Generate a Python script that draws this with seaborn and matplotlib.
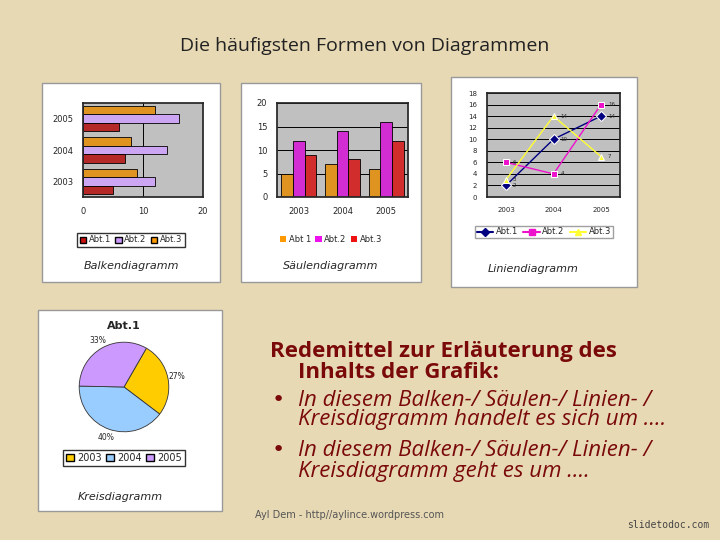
import matplotlib.pyplot as plt
import matplotlib.patches as mpatches
import seaborn as sns
import pandas as pd

years = ['2003', '2004', '2005']
abteilungen = ['Abt.1', 'Abt.2', 'Abt.3']
abt1 = [5, 7, 6]
abt2 = [12, 14, 16]
abt3 = [9, 8, 12]

line_years = ['2003', '2004', '2005']
line_abt1 = [2, 10, 14]
line_abt2 = [6, 4, 16]
line_abt3 = [3, 14, 7]

pie_years = ['2003', '2004', '2005']
pie_values = [27, 40, 33]

W, H = 720, 540


def rect(x0, y0, x1, y1):
    return [x0 / W, 1 - y1 / H, (x1 - x0) / W, (y1 - y0) / H]


sns.set_theme(style='white')
plt.rcParams['font.family'] = ['DejaVu Sans']
fig = plt.figure(figsize=(7.2, 5.4), dpi=100, facecolor='#e8d9b5')

fig.text(365 / W, 1 - 46 / H, 'Die häufigsten Formen von Diagrammen', ha='center', va='center',
         fontsize=14, color='#222222', family='Open Sans')

# white panel backgrounds
for x0, y0, x1, y1 in [(42, 83, 220, 282), (241, 83, 421, 282), (451, 77, 637, 287), (38, 310, 222, 511)]:
    fig.patches.append(mpatches.Rectangle((x0 / W, 1 - y1 / H), (x1 - x0) / W, (y1 - y0) / H,
                                          transform=fig.transFigure, facecolor='white',
                                          edgecolor='#999999', lw=1, zorder=-5))

df = pd.DataFrame({'Jahr': years * 3,
                   'Abt': sum([[a] * 3 for a in abteilungen], []),
                   'Wert': abt1 + abt2 + abt3})
bar_colors = {'Abt.1': '#cc1111', 'Abt.2': '#cc99ff', 'Abt.3': '#ff9900'}
col_colors = {'Abt.1': '#ff9900', 'Abt.2': '#ee11ee', 'Abt.3': '#ee1111'}

# Balkendiagramm
ax1 = fig.add_axes(rect(83, 103, 203, 197))
sns.barplot(data=df, y='Jahr', x='Wert', hue='Abt', order=years[::-1],
            hue_order=abteilungen[::-1], palette=bar_colors, orient='h',
            edgecolor='black', linewidth=0.6, ax=ax1, legend=False)
ax1.set_facecolor('#c0c0c0')
ax1.set_xlim(0, 20)
ax1.set_xticks([0, 10, 20])
ax1.axvline(10, color='black', lw=0.7, zorder=0)
ax1.set_xlabel('')
ax1.set_ylabel('')
ax1.tick_params(labelsize=6, pad=1)
h = [mpatches.Patch(facecolor=bar_colors[a], edgecolor='black') for a in abteilungen]
fig.legend(h, abteilungen, loc='center', bbox_to_anchor=(131 / W, 1 - 240 / H), ncol=3,
           fontsize=6, handlelength=0.8, columnspacing=0.5, handletextpad=0.3,
           frameon=True, edgecolor='black', fancybox=False, borderpad=0.3)
fig.text(131 / W, 1 - 269 / H, 'Balkendiagramm', ha='center', fontsize=8, style='italic')

# Säulendiagramm
ax2 = fig.add_axes(rect(277, 103, 408, 197))
sns.barplot(data=df, x='Jahr', y='Wert', hue='Abt', order=years, hue_order=abteilungen,
            palette=col_colors, edgecolor='black', linewidth=0.6, ax=ax2, legend=False)
ax2.set_facecolor('#c0c0c0')
ax2.set_ylim(0, 20)
ax2.set_yticks([0, 5, 10, 15, 20])
ax2.yaxis.grid(True, color='black', lw=0.7)
ax2.set_axisbelow(True)
ax2.set_xlabel('')
ax2.set_ylabel('')
ax2.tick_params(labelsize=6, pad=1)
h = [mpatches.Patch(facecolor=col_colors[a], edgecolor='none') for a in abteilungen]
fig.legend(h, ['Abt 1', 'Abt.2', 'Abt.3'], loc='center', bbox_to_anchor=(331 / W, 1 - 239 / H),
           ncol=3, fontsize=6, handlelength=0.8, columnspacing=0.5, handletextpad=0.3,
           frameon=False)
fig.text(331 / W, 1 - 269 / H, 'Säulendiagramm', ha='center', fontsize=8, style='italic')

# Liniendiagramm
ax3 = fig.add_axes(rect(487, 93, 620, 197))
ldf = pd.DataFrame({'Jahr': line_years * 3,
                    'Abt': sum([[a] * 3 for a in abteilungen], []),
                    'Wert': line_abt1 + line_abt2 + line_abt3})
line_colors = {'Abt.1': '#000080', 'Abt.2': '#ee11cc', 'Abt.3': '#ffff33'}
sns.lineplot(data=ldf, x='Jahr', y='Wert', hue='Abt', style='Abt', palette=line_colors,
             markers={'Abt.1': 'D', 'Abt.2': 's', 'Abt.3': '^'}, dashes=False,
             markersize=5, lw=1, ax=ax3, legend=False, sort=False)
for vals in [line_abt1, line_abt2, line_abt3]:
    for i, v in enumerate(vals):
        ax3.annotate(str(v), (i, v), xytext=(5, 0), textcoords='offset points', fontsize=4, va='center')
ax3.set_facecolor('#c0c0c0')
ax3.set_ylim(0, 18)
ax3.set_yticks(range(0, 19, 2))
ax3.set_xlim(-0.4, 2.4)
ax3.yaxis.grid(True, color='black', lw=0.7)
ax3.set_axisbelow(True)
ax3.set_xlabel('')
ax3.set_ylabel('')
ax3.tick_params(labelsize=5, pad=1)
h = [plt.Line2D([], [], color=line_colors[a], marker=m, markersize=4)
     for a, m in zip(abteilungen, ['D', 's', '^'])]
fig.legend(h, abteilungen, loc='center', bbox_to_anchor=(544 / W, 1 - 232 / H), ncol=3,
           fontsize=6, handlelength=2, columnspacing=0.6, handletextpad=0.3,
           frameon=True, edgecolor='#888888', fancybox=False, borderpad=0.2)
fig.text(533 / W, 1 - 272 / H, 'Liniendiagramm', ha='center', fontsize=8, style='italic')

# Kreisdiagramm
ax4 = fig.add_axes(rect(68, 331, 180, 443))
ax4.pie(pie_values, colors=['#ffcc00', '#99ccff', '#cc99ff'], startangle=60, counterclock=False,
        wedgeprops={'edgecolor': '#333333', 'lw': 0.6},
        autopct='%d%%', pctdistance=1.2, textprops={'fontsize': 5.5})
ax4.set_title('Abt.1', fontsize=8, fontweight='bold', pad=-2)
h = [mpatches.Patch(facecolor=c, edgecolor='black') for c in ['#ffcc00', '#99ccff', '#cc99ff']]
fig.legend(h, pie_years, loc='center', bbox_to_anchor=(124 / W, 1 - 458 / H), ncol=3,
           fontsize=7, handlelength=0.8, columnspacing=0.5, handletextpad=0.3,
           frameon=True, edgecolor='black', fancybox=False, borderpad=0.3)
fig.text(120 / W, 1 - 500 / H, 'Kreisdiagramm', ha='center', fontsize=8, style='italic')

# Text block
fs = 16
fig.text(270 / W, 1 - 352 / H, 'Redemittel zur Erläuterung des', fontsize=fs,
         color='#7a0a0a', va='center', family='Open Sans', fontweight='bold')
fig.text(298 / W, 1 - 372 / H, 'Inhalts der Grafik:', fontsize=fs,
         color='#7a0a0a', va='center', family='Open Sans', fontweight='bold')
fig.text(272 / W, 1 - 400 / H, '•', fontsize=fs, color='#7a0a0a', va='center')
fig.text(272 / W, 1 - 450 / H, '•', fontsize=fs, color='#7a0a0a', va='center')
lines = [(298, 400, 'In diesem Balken-/ Säulen-/ Linien- /'),
         (298, 420, 'Kreisdiagramm handelt es sich um ….'),
         (298, 450, 'In diesem Balken-/ Säulen-/ Linien- /'),
         (298, 472, 'Kreisdiagramm geht es um ….')]
for x, y, t in lines:
    fig.text(x / W, 1 - y / H, t, fontsize=fs, color='#7a0a0a', va='center',
             style='italic', family='Open Sans')
fig.text(255 / W, 1 - 515 / H, 'Ayl Dem - http//aylince.wordpress.com', fontsize=7,
         color='#555555', va='center')
fig.text(627 / W, 1 - 525 / H, 'slidetodoc.com', fontsize=7, color='#444444',
         va='center', family='DejaVu Sans Mono')

fig.savefig('out.png', dpi=100, facecolor=fig.get_facecolor())
